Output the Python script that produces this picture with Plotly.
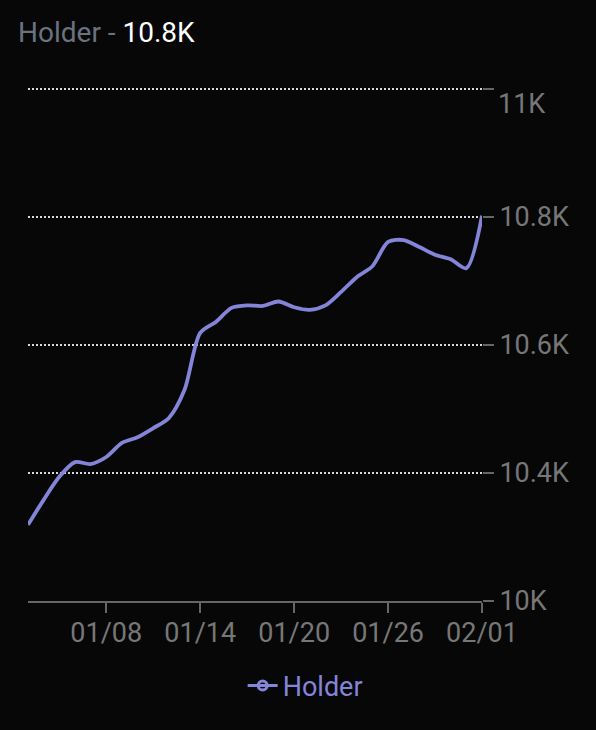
import plotly.graph_objects as go

dates = ["2024-01-%02d" % d for d in range(3, 32)] + ["2024-02-01"]
holders = [10319, 10358, 10394, 10417, 10414, 10425, 10447, 10456, 10470, 10486,
           10530, 10619, 10636, 10658, 10662, 10661, 10668, 10659, 10655, 10662,
           10683, 10706, 10723, 10761, 10764, 10753, 10741, 10734, 10720, 10802]

y_tickvals = [10200, 10400, 10600, 10800, 11000]
y_ticktext = ["10K", "10.4K", "10.6K", "10.8K", ""]
x_tickvals = ["2024-01-08", "2024-01-14", "2024-01-20", "2024-01-26", "2024-02-01"]

LINE = "#8484d8"
BG = "#070707"
FONT = "Roboto"
FS = 27

fig = go.Figure()
fig.add_trace(go.Scatter(x=dates, y=holders, mode="lines", line=dict(color=LINE, width=3.8, shape="spline", smoothing=0.8),
                         showlegend=False, hoverinfo="skip"))
fig.add_trace(go.Scatter(x=[None], y=[None], mode="lines+markers", name="Holder",
                         line=dict(color=LINE, width=3),
                         marker=dict(symbol="circle-open", size=9, color=LINE, line=dict(width=3))))

fig.update_layout(
    width=596, height=730,
    paper_bgcolor=BG, plot_bgcolor=BG,
    margin=dict(l=28, r=114, t=81, b=129, autoexpand=False),
    font=dict(family=FONT, size=FS, color="#777777"),
    title=dict(text="<span style='color:#6b7280'>Holder - </span><span style='color:#ffffff'>10.8K</span>",
               x=18/596, xref="container", xanchor="left", y=1-32/730, yref="container", yanchor="middle",
               font=dict(family=FONT, size=28)),
    showlegend=True,
    legend=dict(orientation="h", x=0.512, xref="container", xanchor="center", y=1-686/730, yref="container",
                yanchor="middle", font=dict(color=LINE, size=FS), bgcolor="rgba(0,0,0,0)", itemwidth=30),
    xaxis=dict(range=[dates[0], dates[-1]], tickvals=x_tickvals, tickformat="%m/%d", showgrid=False,
               showline=True, linecolor="#666666", linewidth=2, ticks="outside", ticklen=10, tickwidth=2,
               tickcolor="#666666", ticklabelstandoff=-3, zeroline=False, fixedrange=True),
    yaxis=dict(range=[10200, 11012.5], side="right", tickvals=y_tickvals, ticktext=y_ticktext,
               showgrid=True, gridcolor="#d8d8d8", griddash="2px,2px", gridwidth=1.5, showline=False,
               ticks="outside", ticklen=11, tickwidth=2, tickcolor="#666666", zeroline=False, fixedrange=True),
)
fig.add_annotation(text="11K", xref="paper", yref="y", x=1, y=11000, xshift=14, yshift=-15,
                   xanchor="left", yanchor="middle", showarrow=False, font=dict(family=FONT, size=FS, color="#777777"))

fig.write_html("out.html", config={"displayModeBar": False},
               post_script="document.body.style.margin='0';document.body.style.background='%s';" % BG)
